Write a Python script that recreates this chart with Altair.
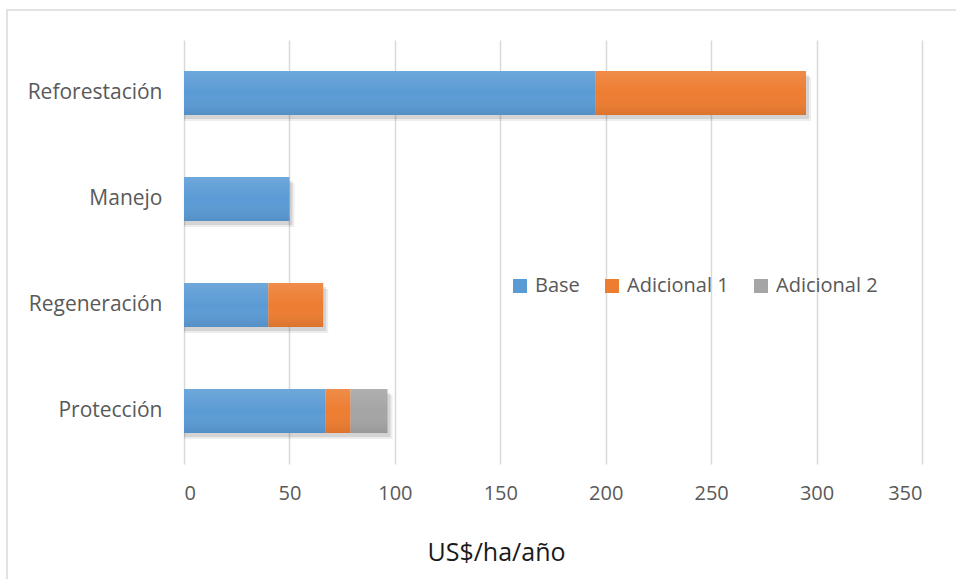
import altair as alt
import pandas as pd

categories = ["Reforestación", "Manejo", "Regeneración", "Protección"]
series = ["Base", "Adicional 1", "Adicional 2"]
base_vals = [195, 50, 40, 67]
adicional1_vals = [100, 0, 26, 12]
adicional2_vals = [0, 0, 0, 17.5]
colors = ["#5B9BD5", "#ED7D31", "#A5A5A5"]
x_ticks = [0, 50, 100, 150, 200, 250, 300, 350]

rows = []
for i, c in enumerate(categories):
    for j, (s, vals) in enumerate(zip(series, [base_vals, adicional1_vals, adicional2_vals])):
        rows.append({"cat": c, "serie": s, "valor": vals[i], "orden": j})
df = pd.DataFrame(rows)
df = df[df["valor"] > 0]

FONT = "Open Sans"

x_enc = alt.X(
    "sum(valor):Q",
    stack="zero",
    scale=alt.Scale(domain=[0, 350], nice=False, zero=True),
    axis=alt.Axis(
        values=x_ticks,
        title="US$/ha/año",
        grid=True,
        gridColor="#D9D9D9",
        gridWidth=1.5,
        domain=False,
        ticks=False,
        labelFontSize=20,
        labelColor="#595959",
        labelFont=FONT,
        labelPadding=19,
        titleFont=FONT,
        titleFontSize=25,
        titleFontWeight="normal",
        titleColor="#1a1a1a",
        titleX=312,
        titleY=96,
        titleAlign="center",
        titleBaseline="alphabetic",
    ),
)
y_enc = alt.Y(
    "cat:N",
    sort=categories,
    scale=alt.Scale(paddingInner=0.585, paddingOuter=0.2925),
    axis=alt.Axis(
        title=None,
        domain=False,
        ticks=False,
        labelFontSize=21,
        labelColor="#595959",
        labelFont=FONT,
        labelPadding=22,
    ),
)

shadow = alt.Chart(df).mark_bar(
    color="#000000", opacity=0.10, xOffset=3, yOffset=4
).encode(
    x=alt.X("sum(valor):Q", stack="zero"),
    y=alt.Y("cat:N", sort=categories),
)
shadow2 = alt.Chart(df).mark_bar(
    color="#000000", opacity=0.07, xOffset=5, yOffset=6
).encode(
    x=alt.X("sum(valor):Q", stack="zero"),
    y=alt.Y("cat:N", sort=categories),
)

bars = alt.Chart(df).mark_bar().encode(
    x=x_enc,
    y=y_enc,
    color=alt.Color(
        "serie:N",
        scale=alt.Scale(domain=series, range=colors),
        legend=alt.Legend(
            title=None,
            orient="none",
            direction="horizontal",
            legendX=326,
            legendY=236,
            symbolType="square",
            symbolSize=196,
            symbolStrokeWidth=0,
            labelFontSize=20,
            labelColor="#595959",
            labelFont=FONT,
            labelOffset=5,
            columnPadding=22,
        ),
    ),
    order=alt.Order("orden:Q"),
)

gloss = alt.Chart(df).mark_bar(
    fill=alt.Gradient(
        gradient="linear",
        x1=0, x2=0, y1=0, y2=1,
        stops=[
            alt.GradientStop(color="rgba(255,255,255,0.12)", offset=0),
            alt.GradientStop(color="rgba(255,255,255,0.0)", offset=0.5),
            alt.GradientStop(color="rgba(0,0,0,0.08)", offset=1),
        ],
    )
).encode(
    x=alt.X("valor:Q", stack="zero"),
    y=alt.Y("cat:N", sort=categories),
    order=alt.Order("orden:Q"),
)

border = alt.Chart(pd.DataFrame({"a": [0]})).mark_rect(
    fill=None, stroke="#D9D9D9", strokeWidth=1.5
).encode(
    x=alt.value(-177),
    x2=alt.value(800),
    y=alt.value(-30),
    y2=alt.value(600),
)

chart = alt.layer(border, shadow2, shadow, bars, gloss).properties(
    width=738,
    height=424,
    autosize=alt.AutoSizeParams(type="none"),
    padding={"left": 184, "top": 40, "right": 34, "bottom": 115},
    background="white",
).configure_view(stroke=None)

chart.save("out.html", embed_options={"renderer": "svg", "actions": False})
